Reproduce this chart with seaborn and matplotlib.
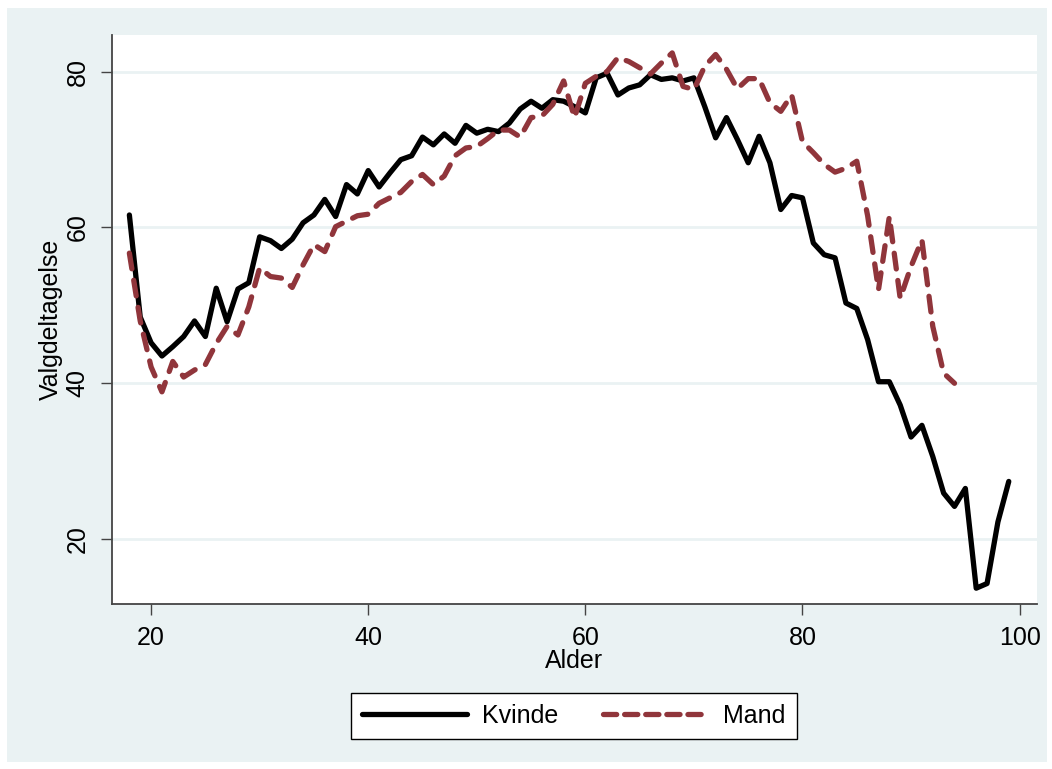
import matplotlib
matplotlib.use('Agg')
import numpy as np
import pandas as pd
import matplotlib.pyplot as plt
import seaborn as sns
from matplotlib.lines import Line2D
from matplotlib.patches import Rectangle

# 데이터
alder_k = list(range(18, 100))
kvinde = [61.6, 48.5, 45.2, 43.5, 44.7, 46.0, 48.0, 46.0, 52.2, 47.9,
          52.1, 52.9, 58.8, 58.3, 57.3, 58.5, 60.6, 61.6, 63.6, 61.4,
          65.5, 64.3, 67.3, 65.2, 67.0, 68.7, 69.2, 71.6, 70.6, 72.0,
          70.8, 73.1, 72.1, 72.6, 72.3, 73.4, 75.2, 76.2, 75.3, 76.4,
          76.2, 75.5, 74.7, 79.2, 79.8, 77.0, 77.9, 78.3, 79.6, 79.0,
          79.2, 78.8, 79.2, 75.5, 71.5, 74.1, 71.3, 68.3, 71.7, 68.3,
          62.3, 64.1, 63.8, 58.0, 56.5, 56.1, 50.3, 49.6, 45.6, 40.2,
          40.2, 37.2, 33.1, 34.6, 30.6, 25.9, 24.2, 26.5, 13.7, 14.3,
          22.2, 27.4]

alder_m = list(range(18, 95))
mand = [56.7, 48.0, 42.1, 38.9, 42.8, 40.8, 41.7, 42.4, 45.1, 47.3,
        46.2, 49.8, 54.8, 53.7, 53.5, 52.3, 55.2, 57.8, 56.9, 60.1,
        60.8, 61.5, 61.7, 63.1, 63.8, 64.5, 65.9, 66.8, 65.5, 66.6,
        69.2, 70.2, 70.4, 71.4, 72.5, 72.5, 71.6, 74.1, 74.3, 75.8,
        78.8, 74.1, 78.5, 79.4, 80.0, 81.8, 81.3, 80.5, 79.7, 81.1,
        82.4, 78.1, 77.7, 80.7, 82.2, 80.3, 77.8, 79.1, 79.1, 76.0,
        74.9, 77.0, 71.0, 69.6, 68.1, 67.1, 67.6, 68.5, 61.5, 52.0,
        61.4, 50.9, 55.0, 58.4, 47.3, 41.3, 40.0]

df = pd.concat([
    pd.DataFrame({'Alder': alder_k, 'Valgdeltagelse': kvinde, 'Koen': 'Kvinde'}),
    pd.DataFrame({'Alder': alder_m, 'Valgdeltagelse': mand, 'Koen': 'Mand'}),
])

BG = '#EAF2F3'
RED = '#90353B'
AXC = '#444444'

sns.set_style('white')
plt.rcParams['font.family'] = ['Liberation Sans', 'DejaVu Sans']
plt.rcParams['text.color'] = 'black'
plt.rcParams['axes.labelcolor'] = 'black'

W, H = 1052, 769
fig = plt.figure(figsize=(W / 100, H / 100), dpi=100, facecolor='white')
bg = Rectangle((7 / W, 7 / H), 1040 / W, 754 / H, transform=fig.transFigure,
               facecolor=BG, edgecolor='none', zorder=-10)
fig.add_artist(bg)
ax = fig.add_axes([112 / W, 1 - 604 / H, (1037 - 112) / W, (604 - 35) / H])
ax.set_facecolor('white')

sns.lineplot(data=df, x='Alder', y='Valgdeltagelse', hue='Koen', style='Koen',
             palette={'Kvinde': 'black', 'Mand': RED},
             dashes={'Kvinde': '', 'Mand': (3, 2.2)},
             linewidth=3.8, legend=False, ax=ax)
for ln in ax.lines:
    ln.set_solid_capstyle('round')
    ln.set_dash_capstyle('round')
    ln.set_solid_joinstyle('round')
    ln.set_dash_joinstyle('round')

ax.set_xlim(16.4, 101.6)
ax.set_ylim(11.67, 84.7)
ax.set_xticks([20, 40, 60, 80, 100])
ax.set_yticks([20, 40, 60, 80])
ax.yaxis.grid(True, color=BG, linewidth=2)
ax.xaxis.grid(False)
ax.set_axisbelow(True)

for s in ['top', 'right']:
    ax.spines[s].set_visible(False)
for s in ['left', 'bottom']:
    ax.spines[s].set_color(AXC)
    ax.spines[s].set_linewidth(1.3)

ax.tick_params(axis='both', direction='out', length=8, width=1, color=AXC,
               labelsize=18, pad=8, labelcolor='black')
ax.tick_params(axis='y', left=True)
ax.tick_params(axis='x', bottom=True)
plt.setp(ax.get_yticklabels(), rotation=90, va='center')

ax.set_xlabel('Alder', fontsize=18)
ax.set_ylabel('Valgdeltagelse', fontsize=18)
ax.xaxis.set_label_coords(0.5, -(649 - 604) / 569)
ax.yaxis.set_label_coords(-(112 - 63) / 925, 0.5)

handles = [
    Line2D([], [], color='black', lw=3.8, solid_capstyle='round'),
    Line2D([], [], color=RED, lw=3.8, dashes=(2.5, 1.5), dash_capstyle='round'),
]
leg = fig.legend(handles, ['Kvinde', 'Mand'], loc='center',
                 bbox_to_anchor=((353 + 795) / 2 / W, 1 - 716 / H),
                 ncol=2, fontsize=18, frameon=True, fancybox=False, framealpha=1,
                 handlelength=4.2, handletextpad=0.6, columnspacing=1.8,
                 borderpad=0.45, borderaxespad=0)
leg.get_frame().set_edgecolor('black')
leg.get_frame().set_linewidth(1.0)
leg.get_frame().set_facecolor('white')

plt.savefig('out.png', dpi=100, facecolor='white')
